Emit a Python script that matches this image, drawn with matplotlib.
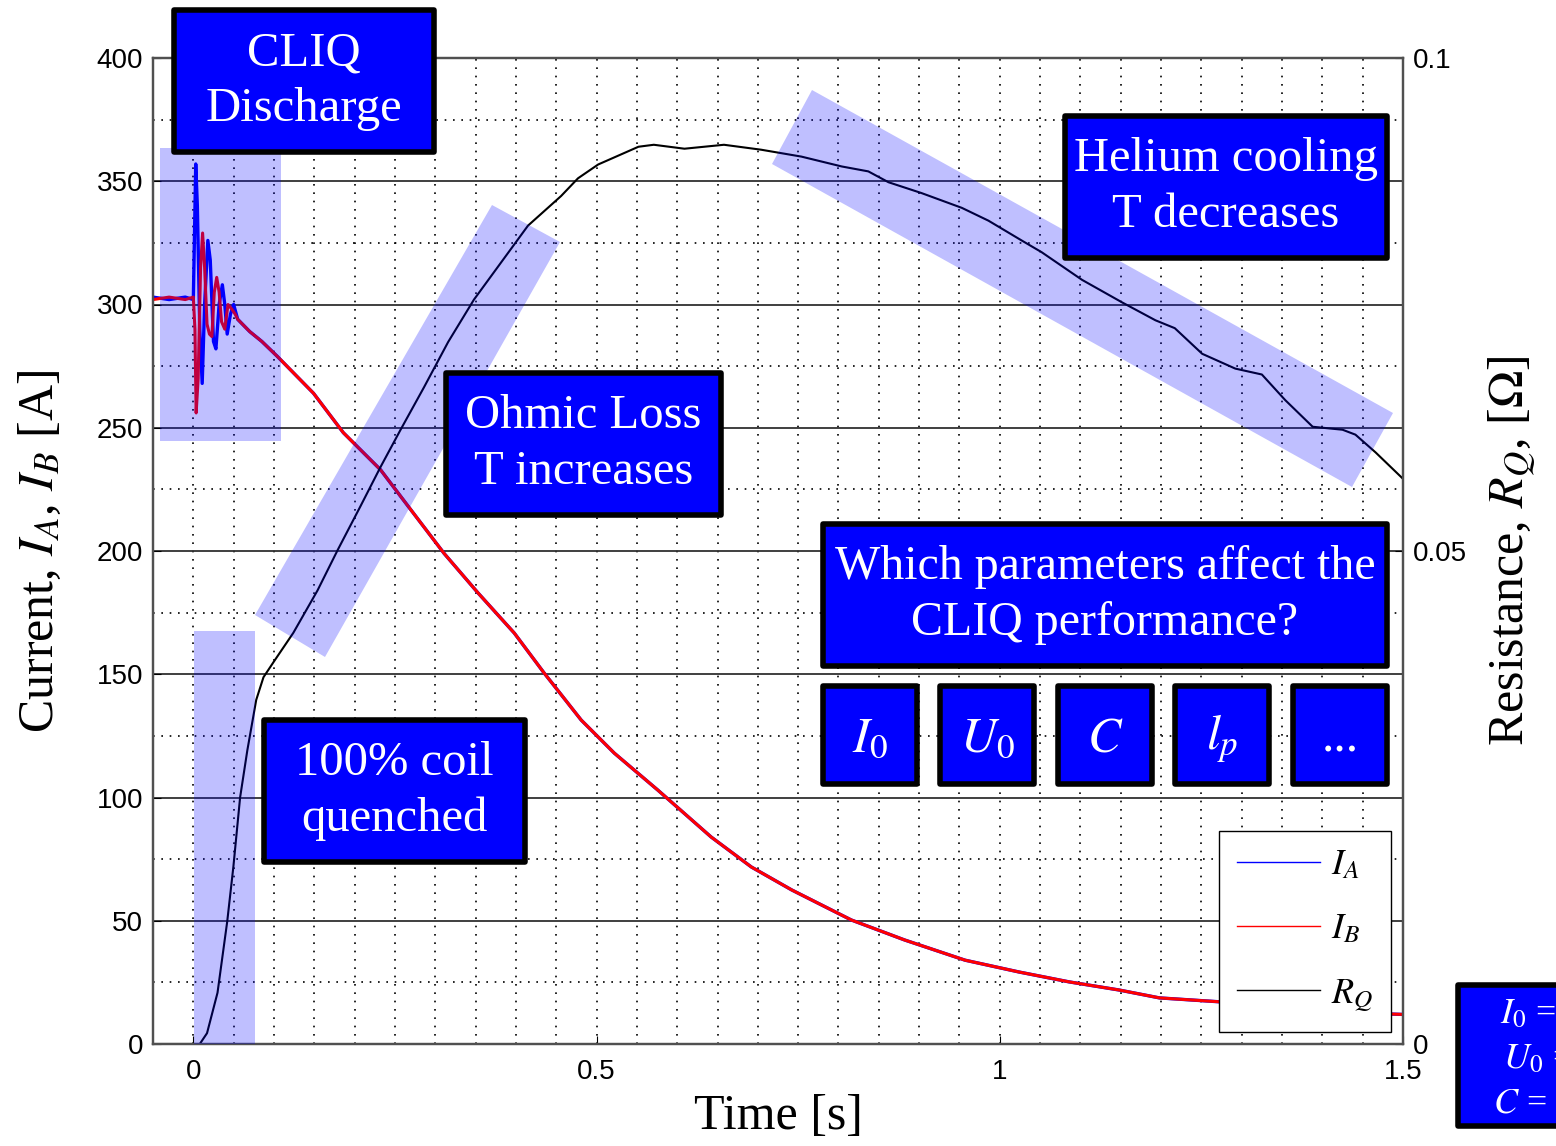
import numpy as np
import matplotlib
matplotlib.use('Agg')
import matplotlib.pyplot as plt
from matplotlib.patches import Rectangle, Polygon
from matplotlib.ticker import MultipleLocator

# currents during the CLIQ discharge oscillation, time [s] / current [A]
t_osc_a = [-0.05, -0.03, -0.01, 0.0, 0.001, 0.003, 0.005, 0.008, 0.011, 0.014, 0.018,
           0.021, 0.025, 0.028, 0.032, 0.036, 0.039, 0.042, 0.046, 0.05, 0.055]
i_osc_a = [303, 302, 303, 302, 320, 357, 340, 290, 268, 300, 326,
           318, 285, 282, 300, 308, 300, 288, 296, 300, 294]
t_osc_b = [-0.05, -0.03, -0.01, 0.0, 0.002, 0.0035, 0.006, 0.009, 0.0115, 0.014, 0.017,
           0.020, 0.023, 0.026, 0.029, 0.032, 0.035, 0.039, 0.043, 0.048, 0.052, 0.055]
i_osc_b = [302, 303, 302, 303, 290, 256, 270, 315, 329, 315, 292,
           288, 287, 305, 311, 305, 293, 290, 300, 298, 296, 294]

# both currents decay together afterwards
t_decay = [0.07, 0.085, 0.104, 0.149, 0.186, 0.232, 0.270, 0.311, 0.353, 0.398, 0.435,
           0.481, 0.522, 0.576, 0.642, 0.692, 0.742, 0.816, 0.882, 0.957, 1.024,
           1.086, 1.148, 1.198, 1.278, 1.38, 1.45, 1.5]
i_decay = [289, 285, 279, 264, 248, 233, 216.6, 199, 183, 166.7, 150.5,
           131.4, 118, 103, 84, 71.8, 62.5, 50.3, 42.2, 34, 29.2,
           25.2, 21.9, 18.7, 17, 14, 12.5, 12]

# quench resistance R_Q [Ohm]
t_res = [-0.05, 0.008, 0.017, 0.030, 0.042, 0.0497, 0.058, 0.067, 0.078, 0.087, 0.1,
         0.124, 0.154, 0.179, 0.207, 0.232, 0.257, 0.286, 0.316, 0.348, 0.415, 0.456,
         0.477, 0.502, 0.552, 0.571, 0.609, 0.658, 0.704, 0.754, 0.804, 0.837, 0.862,
         0.903, 0.953, 0.986, 1.027, 1.052, 1.102, 1.152, 1.193, 1.217, 1.251, 1.292,
         1.325, 1.354, 1.388, 1.425, 1.441, 1.466, 1.499]
r_res = [0.0, 0.0, 0.0011, 0.0052, 0.0124, 0.018, 0.025, 0.0298, 0.0349, 0.0372, 0.0388,
         0.0417, 0.046, 0.0501, 0.0545, 0.0585, 0.0623, 0.0666, 0.0712, 0.0755, 0.0830, 0.0860,
         0.0878, 0.0892, 0.0910, 0.0912, 0.0908, 0.0912, 0.0907, 0.0900, 0.0890, 0.0885, 0.0874,
         0.0863, 0.0848, 0.0835, 0.0815, 0.0803, 0.0775, 0.0752, 0.0734, 0.0726, 0.0700, 0.0685,
         0.0679, 0.0653, 0.0626, 0.0623, 0.0618, 0.0600, 0.0574]

x_ticks = [0, 0.5, 1, 1.5]
x_ticklabels = ['0', '0.5', '1', '1.5']
r_ticks = [0, 0.05, 0.1]
r_ticklabels = ['0', '0.05', '0.1']

plt.rcParams['font.family'] = ['Liberation Serif', 'DejaVu Serif']
plt.rcParams['mathtext.fontset'] = 'stix'

fig = plt.figure(figsize=(15.56, 11.46), dpi=100)
ax = fig.add_axes([153 / 1556, 1 - 1044 / 1146, 1250 / 1556, 986 / 1146])
ax2 = ax.twinx()

ia_t = np.concatenate([t_osc_a, t_decay])
ia = np.concatenate([i_osc_a, i_decay])
ib_t = np.concatenate([t_osc_b, t_decay])
ib = np.concatenate([i_osc_b, i_decay])
l_a, = ax.plot(ia_t, ia, color='#0000ff', lw=2.4, label=r'$I_A$')
l_b, = ax.plot(ib_t, ib, color='#ff0000', lw=2.2, label=r'$I_B$')
l_r, = ax2.plot(t_res, r_res, color='black', lw=1.5, label=r'$R_Q$')

ax.set_xlim(-0.05, 1.5)
ax.set_ylim(0, 400)
ax2.set_ylim(0, 0.1)
ax.set_xticks(x_ticks)
ax.set_xticklabels(x_ticklabels)
ax.yaxis.set_major_locator(MultipleLocator(50))
ax.yaxis.set_minor_locator(MultipleLocator(25))
ax.xaxis.set_minor_locator(MultipleLocator(0.05))
ax2.set_yticks(r_ticks)
ax2.set_yticklabels(r_ticklabels)

# solid lines at the major current ticks, dotted everywhere else
ax.grid(True, which='major', axis='y', color='#303030', lw=1.3, ls='-')
ax.grid(True, which='minor', axis='y', color='black', lw=1.2, ls=(0, (1, 4)))
ax.grid(True, which='both', axis='x', color='black', lw=1.2, ls=(0, (1, 4)))
ax.set_axisbelow(True)

for a in (ax, ax2):
    a.tick_params(which='major', direction='in', length=6, labelsize=20,
                  labelfontfamily='Liberation Sans', colors='black', pad=7)
    a.tick_params(which='minor', length=0)
    for s in a.spines.values():
        s.set_color('#505050')
        s.set_linewidth(1.6)
ax.tick_params(axis='x', pad=11)

ax.set_xlabel('Time [s]', fontsize=36, labelpad=6)
ax.set_ylabel('Current, $I_A$, $I_B$ [A]', fontsize=36, labelpad=24)
ax2.set_ylabel(r'Resistance, $R_Q$, [$\Omega$]', fontsize=36, labelpad=14)

leg = ax2.legend(handles=[l_a, l_b, l_r], loc='lower right',
                 bbox_to_anchor=(0.9904, 0.0122), borderaxespad=0, fontsize=26,
                 handlelength=2.3, handletextpad=0.3, labelspacing=0.85,
                 borderpad=0.5, fancybox=False, framealpha=1, edgecolor='black')
leg.get_frame().set_linewidth(1.0)
for h in leg.legend_handles:
    h.set_linewidth(1.0)

# annotation layer in figure pixels (y downwards)
over = fig.add_axes([0, 0, 1, 1], zorder=10)
over.set_xlim(0, 1556)
over.set_ylim(1146, 0)
over.axis('off')

band = dict(facecolor='#0000ff', alpha=0.25, edgecolor='none', zorder=1)
over.add_patch(Rectangle((160, 148), 121, 293, **band))
over.add_patch(Rectangle((194, 631), 61, 413, **band))
over.add_patch(Polygon([(255, 615), (492, 205), (560, 242), (325, 657)], closed=True, **band))
over.add_patch(Polygon([(772, 164), (812, 90), (1393, 413), (1352, 487)], closed=True, **band))


def box(x0, y0, x1, y1, txt, fs=35, dy=0):
    over.add_patch(Rectangle((x0, y0), x1 - x0, y1 - y0, facecolor='#0000ff',
                             edgecolor='black', lw=4, joinstyle='round', zorder=3))
    over.text((x0 + x1) / 2, (y0 + y1) / 2 + dy, txt, color='white', fontsize=fs,
              ha='center', va='center', linespacing=1.35, zorder=4)


box(174, 10, 434, 152, 'CLIQ\nDischarge')
box(1065, 116, 1387, 258, 'Helium cooling\nT decreases')
box(446, 373, 721, 515, 'Ohmic Loss\nT increases')
box(264, 720, 525, 862, '100% coil\nquenched')
box(823, 524, 1387, 666, 'Which parameters affect the\nCLIQ performance?', fs=34.5)

params = [r'$I_\mathit{0}$', r'$U_\mathit{0}$', r'$C$', r'$l_p$', '...']
lefts = [823, 940, 1058, 1175, 1293]
for p, x0 in zip(params, lefts):
    box(x0, 686, x0 + 94, 784, p, fs=36, dy=4)

# cut-off parameter box at the lower right edge
over.add_patch(Rectangle((1458, 985), 140, 141, facecolor='#0000ff',
                         edgecolor='black', lw=4, joinstyle='round', zorder=3))
for txt, x, y in [(r'$I_\mathit{0}$ =', 1500, 1015), (r'$U_\mathit{0}$ =', 1503, 1060),
                  (r'$C$ =', 1493, 1104)]:
    over.text(x, y, txt, color='white', fontsize=26, ha='left', va='center', zorder=4)

fig.savefig('out.png', dpi=100)
